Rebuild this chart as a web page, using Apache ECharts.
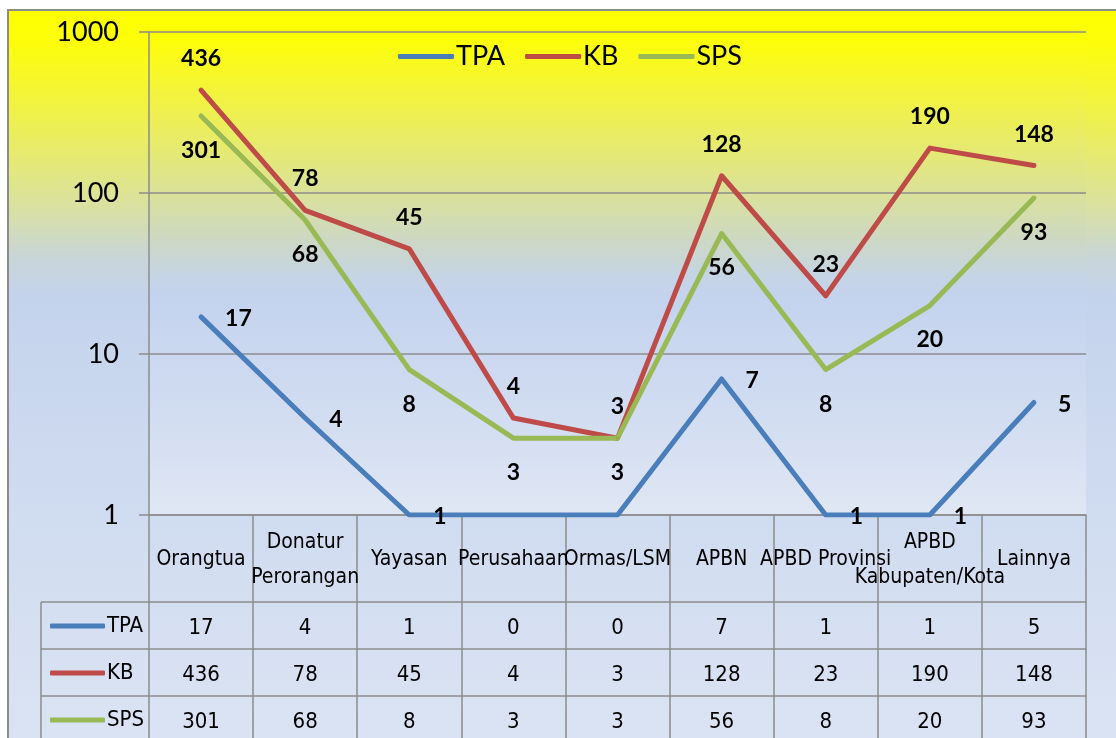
<!DOCTYPE html>
<html>
<head>
<meta charset="utf-8">
<title>TPA / KB / SPS</title>
<script src="https://cdn.jsdelivr.net/npm/echarts@6/dist/echarts.min.js"></script>
<style>
  html, body { margin: 0; padding: 0; background: #fff; }
  #chart { width: 1116px; height: 738px; }
</style>
</head>
<body>
<div id="chart"></div>
<script>
// data
var categories = ['Orangtua', 'Donatur\nPerorangan', 'Yayasan', 'Perusahaan', 'Ormas/LSM',
  'APBN', 'APBD Provinsi', 'APBD\nKabupaten/Kota', 'Lainnya'];
var tpa = [17, 4, 1, 0, 0, 7, 1, 1, 5];
var kb = [436, 78, 45, 4, 3, 128, 23, 190, 148];
var sps = [301, 68, 8, 3, 3, 56, 8, 20, 93];
var yTicks = [1, 10, 100, 1000];

var seriesNames = ['TPA', 'KB', 'SPS'];
var seriesColors = ['#4a7ebb', '#be4b48', '#98b954'];

var narrow = "'Liberation Sans Narrow', 'DejaVu Sans Condensed', sans-serif";
var gridColor = '#8c8c8c';

var myChart = echarts.init(document.getElementById('chart'));

// zero can not sit on a log axis: draw it on the axis floor without a label
function toLog(arr) {
  return arr.map(function (v) {
    return v > 0 ? v : { value: yTicks[0], label: { show: false } };
  });
}

// one category axis per table row, its labels are the row values
function tableRow(values, offset) {
  return {
    type: 'category',
    position: 'bottom',
    offset: offset,
    data: values.map(String),
    axisLine: { lineStyle: { color: gridColor, width: 1.5 } },
    axisTick: { show: true, interval: 0, length: 47, lineStyle: { color: gridColor, width: 1.5 } },
    axisLabel: {
      interval: 0, margin: 26, verticalAlign: 'middle',
      fontFamily: narrow, fontSize: 22, color: '#000'
    },
    splitLine: { show: false }
  };
}

function rowLegend(name, top) {
  return {
    data: [name],
    left: 45,
    top: top,
    icon: 'roundRect',
    itemWidth: 55,
    itemHeight: 5,
    itemGap: 4,
    textStyle: { fontFamily: narrow, fontSize: 22, color: '#000', padding: [0, 0, 0, -3] }
  };
}

function lineSeries(idx, data, label) {
  return {
    name: seriesNames[idx], type: 'line', data: data,
    symbol: 'circle', symbolSize: 2, showSymbol: true,
    lineStyle: { width: 5, color: seriesColors[idx], cap: 'round', join: 'round' },
    itemStyle: { color: seriesColors[idx] },
    label: Object.assign({ show: true, fontFamily: 'Lato', fontWeight: 'bold', fontSize: 23, color: '#000' }, label),
    z: 3
  };
}

var option = {
  animation: false,
  graphic: [
    {
      type: 'rect', z: -10, silent: true,
      shape: { x: 8, y: 10, width: 1200, height: 800 },
      style: {
        stroke: '#8c8c8c', lineWidth: 2,
        fill: new echarts.graphic.LinearGradient(0, 0, 0, 1, [
          { offset: 0, color: '#ffff00' },
          { offset: 0.04, color: '#fdfd08' },
          { offset: 0.14, color: '#eef050' },
          { offset: 0.25, color: '#d9e0a4' },
          { offset: 0.31, color: '#c8d5d8' },
          { offset: 0.36, color: '#c4d3ec' },
          { offset: 0.61, color: '#cfdbf0' },
          { offset: 1, color: '#dee6f4' }
        ])
      }
    },
    { type: 'line', z: 5, silent: true, shape: { x1: 41, y1: 602, x2: 41, y2: 760 },
      style: { stroke: gridColor, lineWidth: 1.5 } },
    { type: 'line', z: 5, silent: true, shape: { x1: 41, y1: 602, x2: 149, y2: 602 },
      style: { stroke: gridColor, lineWidth: 1.5 } },
    { type: 'line', z: 5, silent: true, shape: { x1: 41, y1: 649, x2: 149, y2: 649 },
      style: { stroke: gridColor, lineWidth: 1.5 } },
    { type: 'line', z: 5, silent: true, shape: { x1: 41, y1: 696, x2: 149, y2: 696 },
      style: { stroke: gridColor, lineWidth: 1.5 } }
  ],
  legend: [
    {
      data: seriesNames,
      left: 393,
      top: 38,
      icon: 'roundRect',
      itemWidth: 56,
      itemHeight: 5,
      itemGap: 20,
      textStyle: { fontFamily: 'Lato', fontSize: 27, color: '#000', padding: [0, 0, 0, -3] }
    },
    rowLegend('TPA', 610),
    rowLegend('KB', 657),
    rowLegend('SPS', 704)
  ],
  grid: {
    left: 149, right: 30, top: 32, bottom: 223,
    show: true,
    borderWidth: 0,
    backgroundColor: new echarts.graphic.LinearGradient(0, 0, 0, 1, [
      { offset: 0, color: '#ffff00' },
      { offset: 0.12, color: '#f4f43a' },
      { offset: 0.24, color: '#e6ea70' },
      { offset: 0.35, color: '#d8e0a0' },
      { offset: 0.43, color: '#cdd8c4' },
      { offset: 0.51, color: '#c5d4e6' },
      { offset: 0.55, color: '#c4d3ee' },
      { offset: 0.8, color: '#d2ddf1' },
      { offset: 1, color: '#e0e7f4' }
    ])
  },
  xAxis: [
    {
      type: 'category',
      position: 'bottom',
      data: categories,
      axisLine: { lineStyle: { color: gridColor, width: 1.5 } },
      axisTick: { show: true, interval: 0, length: 87, lineStyle: { color: gridColor, width: 1.5 } },
      axisLabel: {
        interval: 0, margin: 45, verticalAlign: 'middle', lineHeight: 35,
        fontFamily: narrow, fontSize: 21, color: '#000'
      },
      splitLine: { show: false }
    },
    tableRow(tpa, 87),
    tableRow(kb, 134),
    tableRow(sps, 181)
  ],
  yAxis: {
    type: 'log',
    logBase: 10,
    min: yTicks[0],
    max: yTicks[yTicks.length - 1],
    axisLine: { show: true, lineStyle: { color: gridColor, width: 1.5 } },
    axisTick: { show: true, length: 10, lineStyle: { color: gridColor, width: 1.5 } },
    axisLabel: {
      margin: 30, fontFamily: 'Lato', fontSize: 27, color: '#000',
      formatter: function (v) { return String(Math.round(v)); }
    },
    splitLine: { lineStyle: { color: gridColor, width: 1.5 } }
  },
  series: [
    lineSeries(0, toLog(tpa), { position: 'right', distance: 23, offset: [0, 2] }),
    lineSeries(1, kb, { position: 'top', distance: 19 }),
    lineSeries(2, sps, { position: 'bottom', distance: 22 })
  ]
};

myChart.setOption(option);
</script>
</body>
</html>
